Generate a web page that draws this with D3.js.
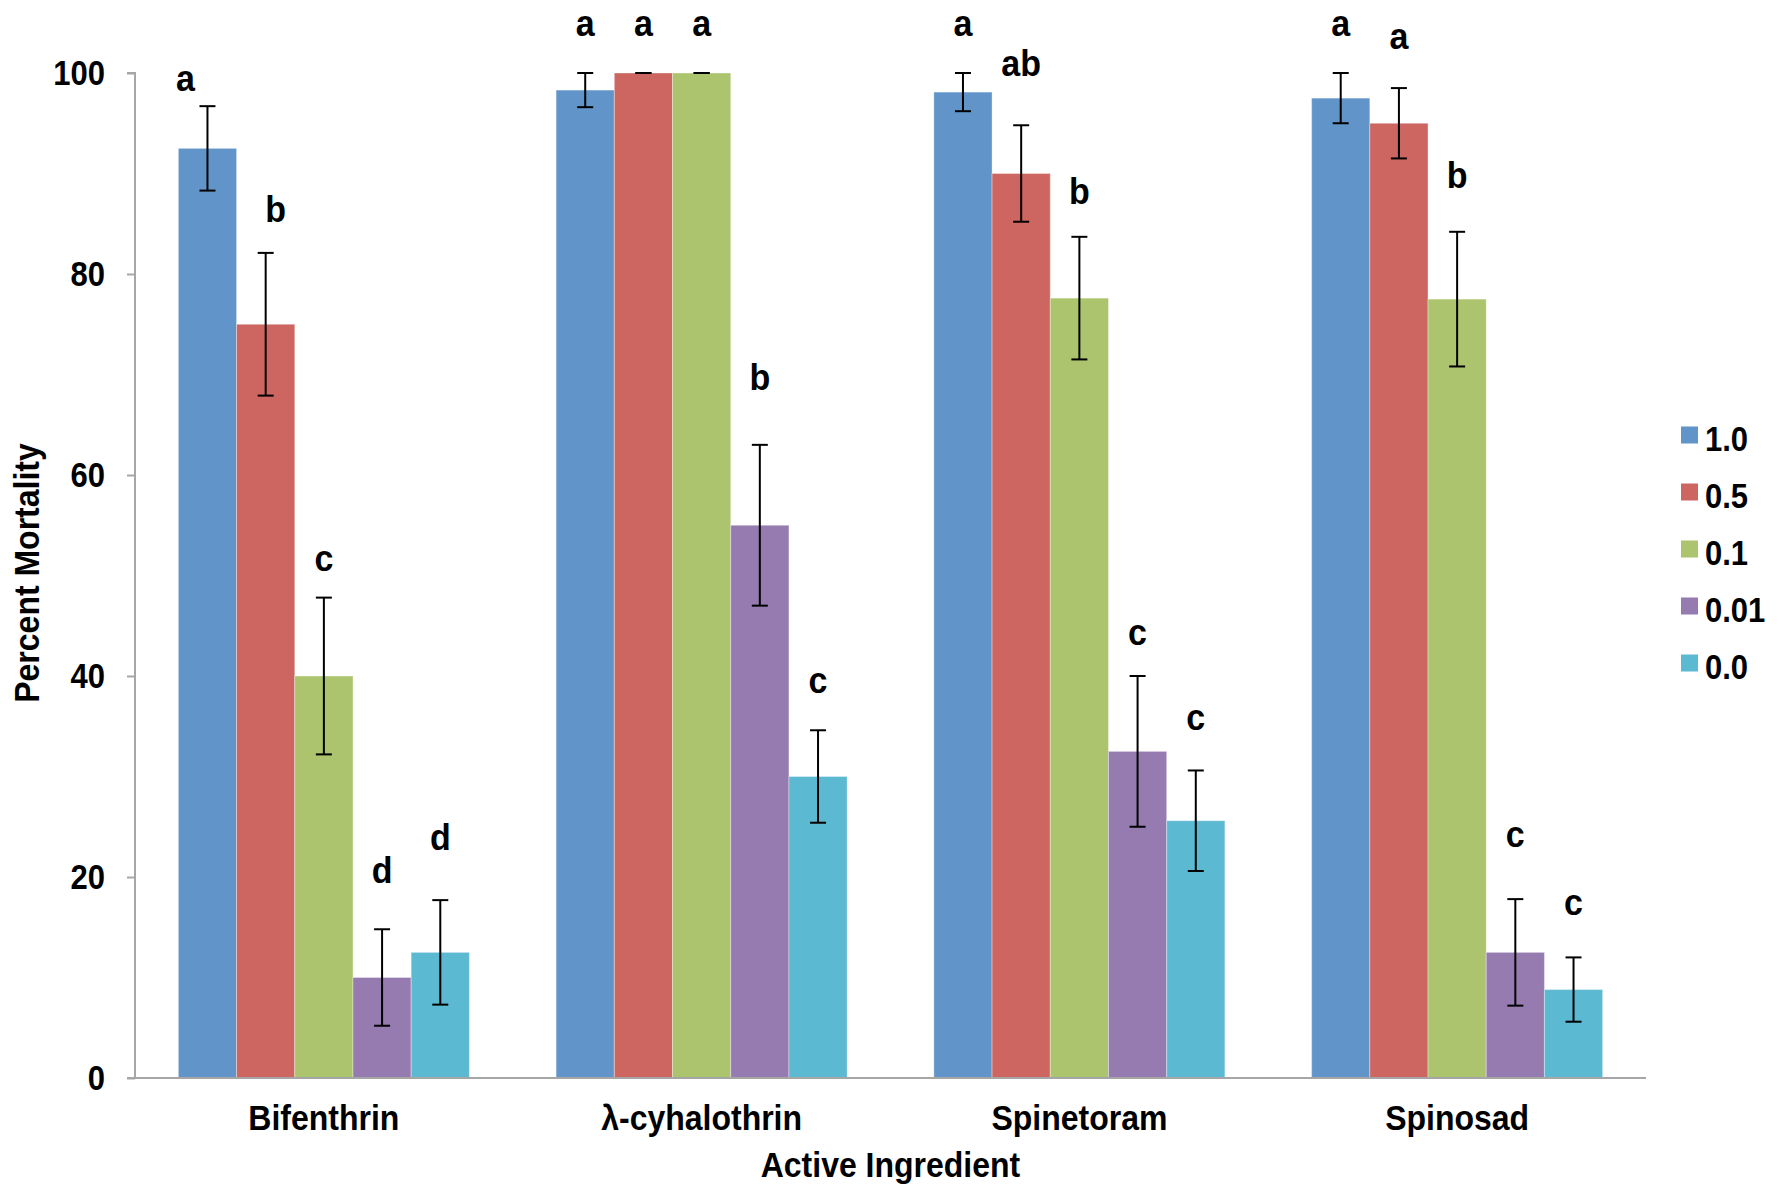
<!DOCTYPE html>
<html>
<head>
<meta charset="utf-8">
<script src="https://cdn.jsdelivr.net/npm/d3@7/dist/d3.min.js"></script>
<style>
  html, body { margin: 0; padding: 0; background: #fff; }
  svg { display: block; font-family: "Liberation Sans", Arial, sans-serif; font-weight: bold; }
</style>
</head>
<body>
<svg id="chart" width="1783" height="1184"></svg>
<script>
// Active ingredients on the x axis
const ingredients = ["Bifenthrin", "λ-cyhalothrin", "Spinetoram", "Spinosad"];
// Concentration series (legend order)
const concentrations = ["1.0", "0.5", "0.1", "0.01", "0.0"];
const seriesColors = ["#6195c9", "#cd6660", "#abc46d", "#957bb0", "#5cb9d2"];

// Mean percent mortality, one row per ingredient, one value per concentration
const mortality = [
  [92.5, 75.0, 40.0, 10.0, 12.5],
  [98.3, 100.0, 100.0, 55.0, 30.0],
  [98.1, 90.0, 77.6, 32.5, 25.6],
  [97.5, 95.0, 77.5, 12.5, 8.8]
];
// Standard error of each mean
const stdErr = [
  [4.2, 7.1, 7.8, 4.8, 5.2],
  [1.7, 0.0, 0.0, 8.0, 4.6],
  [1.9, 4.8, 6.1, 7.5, 5.0],
  [2.5, 3.5, 6.7, 5.3, 3.2]
];
// Mean-separation letters and the mortality level at which each sits
const letters = [
  ["a", "b", "c", "d", "d"],
  ["a", "a", "a", "b", "c"],
  ["a", "ab", "b", "c", "c"],
  ["a", "a", "b", "c", "c"]
];
const letterLevel = [
  [98.2, 85.2, 50.4, 19.4, 22.7],
  [103.7, 103.7, 103.7, 68.5, 38.3],
  [103.7, 99.7, 87.0, 43.1, 34.6],
  [103.7, 102.4, 88.6, 23.0, 16.2]
];
const yTicks = [0, 20, 40, 60, 80, 100];

// Small horizontal nudges for a couple of crowded letters (pixels)
const letterNudge = { "0-0": -22, "0-1": 10 };

// Text is drawn slightly narrow: a taller font squeezed horizontally
const SX = 0.9;
function narrow(sel, size) {
  sel.attr("font-size", size / SX)
    .attr("transform", function () {
      const prev = this.getAttribute("transform") || "";
      return `${prev} scale(${SX},1)`.trim();
    })
    .attr("x", function () { return (+this.getAttribute("x") || 0) / SX; });
  return sel;
}

const svg = d3.select("#chart");
const plot = { left: 135, right: 1646, top: 73, bottom: 1078 };

const x0 = d3.scaleBand().domain(ingredients).range([plot.left, plot.right]).padding(0);
const x1 = d3.scaleBand().domain(concentrations).range([0, x0.bandwidth()])
  .paddingInner(0).paddingOuter(0.745);
const y = d3.scaleLinear().domain([0, 100]).range([plot.bottom, plot.top]);
const color = d3.scaleOrdinal().domain(concentrations).range(seriesColors);

const rows = ingredients.map((ing, i) => concentrations.map((c, j) => ({
  ing, c, i, j, v: mortality[i][j], e: stdErr[i][j], letter: letters[i][j], lv: letterLevel[i][j]
})));

// Bars
const groups = svg.append("g").selectAll("g").data(rows).join("g")
  .attr("transform", d => `translate(${x0(d[0].ing)},0)`);

groups.selectAll("rect").data(d => d).join("rect")
  .attr("x", d => x1(d.c))
  .attr("y", d => y(d.v))
  .attr("width", x1.bandwidth())
  .attr("height", d => y(0) - y(d.v))
  .attr("fill", d => color(d.c))
  .attr("stroke", "rgba(255,255,255,0.35)")
  .attr("stroke-width", 1);

// Error bars
const capHalf = 8;
const cx = d => x1(d.c) + x1.bandwidth() / 2;
const eb = groups.selectAll("g.err").data(d => d).join("g").attr("class", "err")
  .attr("stroke", "#000").attr("stroke-width", 2);
eb.append("line")
  .attr("x1", cx).attr("x2", cx)
  .attr("y1", d => y(Math.min(100, d.v + d.e)))
  .attr("y2", d => y(d.v - d.e));
eb.append("line")
  .attr("x1", d => cx(d) - capHalf).attr("x2", d => cx(d) + capHalf)
  .attr("y1", d => y(Math.min(100, d.v + d.e)))
  .attr("y2", d => y(Math.min(100, d.v + d.e)));
eb.append("line")
  .attr("x1", d => cx(d) - capHalf).attr("x2", d => cx(d) + capHalf)
  .attr("y1", d => y(d.v - d.e))
  .attr("y2", d => y(d.v - d.e));

// Significance letters
groups.selectAll("text.letter").data(d => d).join("text").attr("class", "letter")
  .attr("x", d => cx(d) + (letterNudge[`${d.i}-${d.j}`] || 0))
  .attr("y", d => y(d.lv))
  .attr("text-anchor", "middle")
  .attr("fill", "#000")
  .text(d => d.letter)
  .call(narrow, 34);

// Y axis
const yAxis = svg.append("g").attr("transform", `translate(${plot.left},0)`)
  .call(d3.axisLeft(y).tickValues(yTicks).tickSize(8).tickPadding(0).tickFormat(d3.format("d")));
yAxis.select(".domain").attr("stroke", "#a6a6a6").attr("stroke-width", 2)
  .attr("d", `M-8,${plot.top}H0V${plot.bottom}`);
yAxis.selectAll(".tick line").attr("stroke", "#a6a6a6").attr("stroke-width", 2);
yAxis.selectAll(".tick text")
  .attr("x", -30).attr("dy", null).attr("y", 11)
  .attr("font-family", null).attr("fill", "#000")
  .call(narrow, 31);

// X axis
const xAxis = svg.append("g").attr("transform", `translate(0,${plot.bottom})`)
  .call(d3.axisBottom(x0).tickSize(0).tickPadding(0));
xAxis.select(".domain").attr("stroke", "#a6a6a6").attr("stroke-width", 2)
  .attr("d", `M${plot.left - 8},0H${plot.right}`);
xAxis.selectAll(".tick text")
  .attr("x", 0).attr("y", 52).attr("dy", null)
  .attr("font-family", null).attr("fill", "#000")
  .call(narrow, 32);

// Axis titles
svg.append("text")
  .attr("x", (plot.left + plot.right) / 2).attr("y", 1177)
  .attr("text-anchor", "middle")
  .text("Active Ingredient")
  .call(narrow, 32);
svg.append("text")
  .attr("transform", `translate(39,573) rotate(-90)`)
  .attr("x", 0)
  .attr("text-anchor", "middle")
  .text("Percent Mortality")
  .call(narrow, 32);

// Legend
const legend = svg.append("g").selectAll("g").data(concentrations).join("g")
  .attr("transform", (d, i) => `translate(1681,${435 + i * 57})`);
legend.append("rect")
  .attr("x", 0).attr("y", -8.5).attr("width", 17).attr("height", 17)
  .attr("fill", d => color(d));
legend.append("text")
  .attr("x", 24).attr("y", 16)
  .text(d => d)
  .call(narrow, 31);
</script>
</body>
</html>
